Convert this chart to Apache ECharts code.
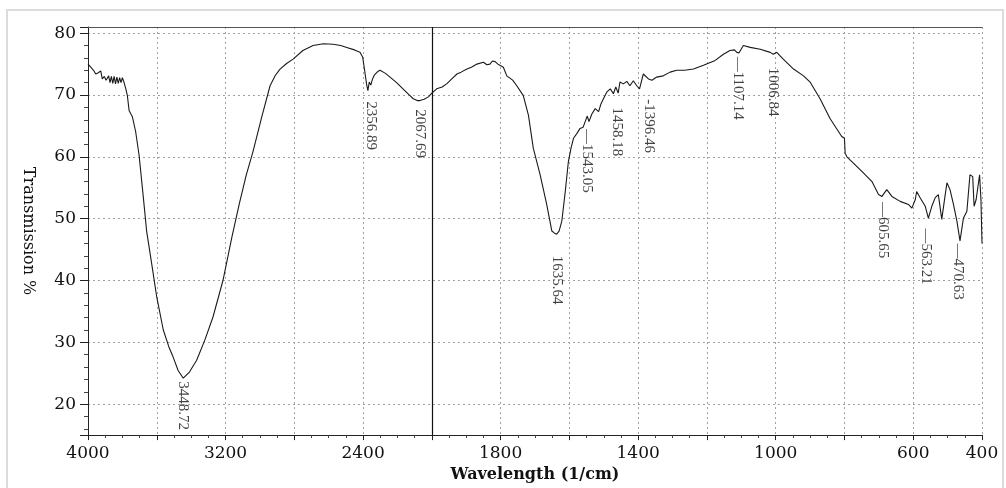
<!DOCTYPE html>
<html>
<head>
<meta charset="utf-8">
<script src="https://cdn.jsdelivr.net/npm/echarts@6/dist/echarts.min.js"></script>
<style>
  html, body { margin: 0; padding: 0; background: #fff; }
  #chart { width: 1006px; height: 488px; }
</style>
</head>
<body>
<div id="chart"></div>
<script>
  // IR spectrum, wavenumber (1/cm) vs transmission %
  const waveNumbers = [
    4000, 3984, 3968, 3955, 3940, 3926, 3917, 3905, 3895, 3888, 3880, 3872, 3864, 3856, 3848, 3840,
    3832, 3824, 3816, 3808, 3800, 3791, 3780, 3771, 3761, 3752, 3742, 3723, 3703, 3678, 3659, 3629,
    3600, 3562, 3530, 3506, 3475, 3446, 3410, 3368, 3320, 3273, 3215, 3164, 3120, 3080, 3040, 2990,
    2941, 2910, 2883, 2845, 2807, 2750, 2691, 2630, 2575, 2530, 2495, 2450, 2418, 2402, 2390, 2380,
    2372, 2364, 2355, 2345, 2335, 2315, 2301, 2270, 2243, 2205, 2168, 2135, 2108, 2085, 2069, 2045,
    2020, 2000, 1986, 1970, 1957, 1942, 1927, 1915, 1898, 1885, 1869, 1850, 1840, 1831, 1824, 1816,
    1808, 1802, 1792, 1782, 1765, 1753, 1734, 1719, 1705, 1685, 1666, 1651, 1644, 1637, 1630, 1622,
    1612, 1603, 1595, 1588, 1578, 1569, 1560, 1554, 1548, 1543, 1535, 1525, 1515, 1508, 1501, 1491,
    1481, 1472, 1465, 1458, 1453, 1443, 1433, 1424, 1414, 1404, 1396, 1385, 1370, 1360, 1346, 1327,
    1307, 1288, 1265, 1239, 1210, 1176, 1152, 1133, 1120, 1113, 1107, 1094, 1074, 1045, 1016, 1007,
    997, 978, 948, 919, 900, 871, 842, 808, 800, 798, 793, 774, 745, 720, 701, 691,
    677, 662, 638, 614, 604, 594, 590, 580, 565, 556, 546, 536, 527, 517, 507, 502,
    493, 483, 473, 464, 454, 444, 435, 427, 423, 417, 407, 403, 400
  ]
  const transmission = [
    75.0, 74.5, 74.0, 73.4, 73.6, 73.9, 72.6, 73.0, 72.4, 72.6, 73.1, 72.0, 73.0, 71.9, 73.0, 71.8,
    72.9, 71.9, 72.8, 72.0, 72.8, 72.1, 71.0, 69.9, 67.5, 67.0, 66.5, 64.1, 60.3, 53.4, 48.0, 42.6,
    37.3, 32.0, 29.3, 27.7, 25.4, 24.2, 25.2, 27.1, 30.4, 34.1, 40.0, 46.9, 52.4, 57.0, 60.9, 66.4,
    71.5, 73.2, 74.2, 75.1, 75.8, 77.2, 78.0, 78.3, 78.2, 78.0, 77.7, 77.3, 76.9, 76.1, 73.8, 71.8,
    70.7, 72.1, 71.6, 72.6, 73.2, 73.8, 74.0, 73.5, 72.9, 72.0, 71.0, 70.1, 69.4, 69.1, 69.1, 69.3,
    69.7, 70.3, 71.0, 71.3, 71.8, 72.6, 73.4, 73.7, 74.2, 74.5, 75.0, 75.3, 74.9, 75.0, 75.5, 75.4,
    75.0, 74.8, 74.5, 73.1, 72.4, 71.5, 69.9, 66.7, 61.4, 57.1, 52.3, 48.0, 47.7, 47.5, 48.0, 49.6,
    54.4, 59.2, 61.5, 63.0, 63.8, 64.6, 64.8, 65.7, 66.6, 65.7, 66.9, 67.8, 67.3, 68.6, 69.4, 70.5,
    71.0, 70.2, 71.3, 70.3, 72.1, 71.8, 72.2, 71.5, 72.3, 71.5, 71.0, 73.4, 72.6, 72.4, 72.9, 73.1,
    73.7, 74.0, 74.0, 74.2, 74.8, 75.6, 76.6, 77.2, 77.3, 76.9, 76.8, 78.0, 77.7, 77.4, 76.9, 76.6,
    76.9, 75.8, 74.2, 73.1, 72.1, 69.4, 66.2, 63.3, 63.0, 60.6, 60.0, 59.0, 57.4, 56.0, 53.9, 53.6,
    54.7, 53.6, 52.8, 52.3, 51.7, 53.1, 54.4, 53.4, 52.0, 50.1, 52.0, 53.4, 53.9, 49.9, 53.9, 55.8,
    54.7, 52.3, 49.6, 46.4, 50.1, 51.2, 57.1, 56.8, 52.0, 53.1, 57.1, 53.0, 46.0
  ]
  const xTickLabels = [4000, 3200, 2400, 1800, 1400, 1000, 600, 400]
  const yTickLabels = [20, 30, 40, 50, 60, 70, 80]

  // peak annotations: text, wavenumber where it is printed, transmission at its top end
  const peakLabels = ['3448.72', '2356.89', '2067.69', '1635.64', '—1543.05', '1458.18', '-1396.46',
    '—1107.14', '1006.84', '—605.65', '—563.21', '—470.63']
  const peakAt = [3448, 2357, 2068, 1636, 1550, 1461, 1369, 1109, 1007, 687, 563, 471]
  const peakTop = [23.7, 69.0, 67.7, 44.0, 64.5, 68.0, 69.3, 76.2, 74.4, 52.7, 48.4, 46.0]

  // the axis is expanded 2x below 2000 1/cm
  const toAxis = wn => wn >= 2000 ? (4000 - wn) / 2 : 1000 + (2000 - wn)
  const fromAxis = v => v <= 1000 ? 4000 - 2 * v : 2000 - (v - 1000)

  const serif = '"DejaVu Serif", "Liberation Serif", serif'

  const chart = echarts.init(document.getElementById('chart'))
  chart.setOption({
    animation: false,
    backgroundColor: '#fff',
    graphic: [{
      type: 'rect',
      shape: { x: 7, y: 10, width: 996, height: 490 },
      style: { fill: 'none', stroke: '#dcdcdc', lineWidth: 2 },
      silent: true
    }],
    grid: {
      left: 88,
      right: 24,
      top: 27,
      bottom: 51
    },
    xAxis: [{
      type: 'value',
      min: 0,
      max: 2600,
      interval: 200,
      name: 'Wavelength (1/cm)',
      nameLocation: 'middle',
      nameGap: 28,
      nameTextStyle: { fontFamily: serif, fontSize: 16, fontWeight: 'bold', color: '#111' },
      axisLine: { show: true, onZero: false, lineStyle: { color: '#222', width: 1 } },
      axisTick: { show: true, length: 5, lineStyle: { color: '#222' } },
      minorTick: { show: true, splitNumber: 4, length: 3, lineStyle: { color: '#444' } },
      axisLabel: {
        margin: 10,
        fontFamily: serif,
        fontSize: 17,
        color: '#111',
        formatter: v => {
          const wn = Math.round(fromAxis(v))
          return xTickLabels.includes(wn) ? String(wn) : ''
        }
      },
      splitLine: { show: true, lineStyle: { color: '#a2a2a2', type: [2, 3], width: 1 } }
    }, {
      type: 'value',
      position: 'top',
      min: 0,
      max: 2600,
      axisLine: { show: true, lineStyle: { color: '#555', width: 1 } },
      axisTick: { show: false },
      axisLabel: { show: false },
      splitLine: { show: false }
    }],
    yAxis: {
      type: 'value',
      min: 15,
      max: 81,
      splitNumber: 7,
      name: 'Transmission %',
      nameLocation: 'middle',
      nameRotate: -90,
      nameGap: 52,
      nameTextStyle: { fontFamily: serif, fontSize: 16, color: '#111' },
      axisLine: { show: true, lineStyle: { color: '#222', width: 1 } },
      axisTick: { show: true, length: 8, lineStyle: { color: '#222' } },
      minorTick: { show: true, splitNumber: 5, length: 4, lineStyle: { color: '#444' } },
      axisLabel: {
        margin: 12,
        fontFamily: serif,
        fontSize: 17,
        color: '#111',
        formatter: v => yTickLabels.includes(v) ? String(v) : ''
      },
      splitLine: { show: true, lineStyle: { color: '#a2a2a2', type: [2, 3], width: 1 } }
    },
    series: [{
      type: 'line',
      data: waveNumbers.map((w, i) => [toAxis(w), transmission[i]]),
      showSymbol: false,
      lineStyle: { color: '#1a1a1a', width: 1.1 },
      markLine: {
        silent: true,
        symbol: 'none',
        label: { show: false },
        lineStyle: { color: '#111', type: 'solid', width: 1.2 },
        data: [{ xAxis: toAxis(2000) }]
      }
    }, {
      type: 'scatter',
      symbolSize: 0,
      data: peakAt.map((w, i) => [toAxis(w), peakTop[i]]),
      label: {
        show: true,
        position: [0, 0],
        rotate: -90,
        align: 'left',
        verticalAlign: 'middle',
        fontFamily: '"Liberation Serif", serif',
        fontSize: 15,
        color: '#111',
        formatter: p => peakLabels[p.dataIndex]
      }
    }]
  })
</script>
</body>
</html>
